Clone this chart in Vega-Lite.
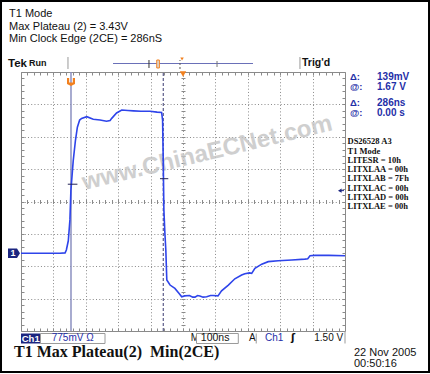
{
  "$schema": "https://vega.github.io/schema/vega-lite/v6.json",
  "width": 324,
  "height": 259,
  "autosize": {"type": "none"},
  "padding": {"left": 21, "top": 72, "right": 85, "bottom": 43},
  "background": "white",
  "config": {"view": {"stroke": "#8a8a8a", "strokeWidth": 1}},
  "datasets": {
    "wave": [
      {"t": -500, "v": 0.0}, {"t": -430, "v": 0.0}, {"t": -380, "v": 0.0}, {"t": -364, "v": 0.01},
      {"t": -360, "v": 0.08}, {"t": -354, "v": 0.3}, {"t": -349, "v": 0.8}, {"t": -346, "v": 1.5},
      {"t": -339, "v": 2.2}, {"t": -332, "v": 2.7}, {"t": -326, "v": 3.02}, {"t": -319, "v": 3.19},
      {"t": -313, "v": 3.23}, {"t": -297, "v": 3.27}, {"t": -277, "v": 3.21}, {"t": -256, "v": 3.19},
      {"t": -236, "v": 3.16}, {"t": -225, "v": 3.18}, {"t": -220, "v": 3.23}, {"t": -205, "v": 3.36},
      {"t": -189, "v": 3.43}, {"t": -170, "v": 3.42}, {"t": -153, "v": 3.41}, {"t": -130, "v": 3.4},
      {"t": -102, "v": 3.4}, {"t": -80, "v": 3.38}, {"t": -66, "v": 3.37}, {"t": -63, "v": 3.19},
      {"t": -61, "v": 2.23}, {"t": -59, "v": 1.04}, {"t": -56, "v": 0.5}, {"t": -53, "v": 0.08},
      {"t": -50, "v": -0.64}, {"t": -40, "v": -0.76}, {"t": -25, "v": -0.84}, {"t": -12, "v": -0.96},
      {"t": -4, "v": -1.04}, {"t": 5, "v": -1.02}, {"t": 20, "v": -1.01}, {"t": 30, "v": -1.05},
      {"t": 37, "v": -1.05}, {"t": 45, "v": -1.01}, {"t": 52, "v": -1.02}, {"t": 62, "v": -1.05},
      {"t": 73, "v": -1.04}, {"t": 85, "v": -1.01}, {"t": 93, "v": -1.01}, {"t": 108, "v": -1.02},
      {"t": 119, "v": -0.9}, {"t": 140, "v": -0.76}, {"t": 160, "v": -0.61}, {"t": 181, "v": -0.52},
      {"t": 191, "v": -0.49}, {"t": 205, "v": -0.47}, {"t": 212, "v": -0.48}, {"t": 222, "v": -0.36},
      {"t": 243, "v": -0.26}, {"t": 263, "v": -0.2}, {"t": 294, "v": -0.18}, {"t": 336, "v": -0.16},
      {"t": 376, "v": -0.14}, {"t": 385, "v": -0.13}, {"t": 392, "v": -0.06}, {"t": 407, "v": -0.05},
      {"t": 450, "v": -0.05}, {"t": 500, "v": -0.06}
    ]
  },
  "resolve": {"axis": {"x": "independent", "y": "independent"}},
  "layer": [
    {
      "data": {"name": "wave"},
      "mark": {"type": "point", "opacity": 0},
      "encoding": {
        "x": {"field": "t", "type": "quantitative", "scale": {"domain": [-500, 500], "nice": false, "zero": false},
          "axis": {"orient": "bottom", "values": [-500, -400, -300, -200, -100, 0, 100, 200, 300, 400, 500], "grid": true, "gridColor": "#8a8a8a", "gridDash": [1, 2.24], "gridWidth": 1, "ticks": false, "labels": false, "domain": false, "title": null}},
        "y": {"field": "v", "type": "quantitative", "scale": {"domain": [-1.86, 4.34], "nice": false, "zero": false},
          "axis": {"orient": "left", "values": [-1.86, -1.085, -0.31, 0.465, 1.24, 2.015, 2.79, 3.565, 4.34], "grid": true, "gridColor": "#8a8a8a", "gridDash": [1, 2.24], "gridWidth": 1, "ticks": false, "labels": false, "domain": false, "title": null}}
      }
    },
    {
      "data": {"name": "wave"},
      "mark": {"type": "point", "opacity": 0},
      "encoding": {
        "x": {"field": "t", "type": "quantitative", "scale": {"domain": [-500, 500], "nice": false, "zero": false},
          "axis": {"orient": "top", "offset": -3, "tickSize": 3, "tickColor": "#8a8a8a", "ticks": true, "grid": false, "labels": false, "domain": false, "title": null,
            "values": [-480, -460, -440, -420, -400, -380, -360, -340, -320, -300, -280, -260, -240, -220, -200, -180, -160, -140, -120, -100, -80, -60, -40, -20, 0, 20, 40, 60, 80, 100, 120, 140, 160, 180, 200, 220, 240, 260, 280, 300, 320, 340, 360, 380, 400, 420, 440, 460, 480]}},
        "y": {"field": "v", "type": "quantitative", "scale": {"domain": [-1.86, 4.34], "nice": false, "zero": false},
          "axis": {"orient": "left", "offset": -3, "tickSize": 3, "tickColor": "#8a8a8a", "ticks": true, "grid": false, "labels": false, "domain": false, "title": null,
            "values": [-1.705, -1.55, -1.395, -1.24, -1.085, -0.93, -0.775, -0.62, -0.465, -0.31, -0.155, 0, 0.155, 0.31, 0.465, 0.62, 0.775, 0.93, 1.085, 1.24, 1.395, 1.55, 1.705, 1.86, 2.015, 2.17, 2.325, 2.48, 2.635, 2.79, 2.945, 3.1, 3.255, 3.41, 3.565, 3.72, 3.875, 4.03, 4.185]}}
      }
    },
    {
      "data": {"name": "wave"},
      "mark": {"type": "point", "opacity": 0},
      "encoding": {
        "x": {"field": "t", "type": "quantitative", "scale": {"domain": [-500, 500], "nice": false, "zero": false},
          "axis": {"orient": "bottom", "offset": -3, "tickSize": 3, "tickColor": "#8a8a8a", "ticks": true, "grid": false, "labels": false, "domain": false, "title": null,
            "values": [-480, -460, -440, -420, -400, -380, -360, -340, -320, -300, -280, -260, -240, -220, -200, -180, -160, -140, -120, -100, -80, -60, -40, -20, 0, 20, 40, 60, 80, 100, 120, 140, 160, 180, 200, 220, 240, 260, 280, 300, 320, 340, 360, 380, 400, 420, 440, 460, 480]}},
        "y": {"field": "v", "type": "quantitative", "scale": {"domain": [-1.86, 4.34], "nice": false, "zero": false},
          "axis": {"orient": "right", "offset": -3, "tickSize": 3, "tickColor": "#8a8a8a", "ticks": true, "grid": false, "labels": false, "domain": false, "title": null,
            "values": [-1.705, -1.55, -1.395, -1.24, -1.085, -0.93, -0.775, -0.62, -0.465, -0.31, -0.155, 0, 0.155, 0.31, 0.465, 0.62, 0.775, 0.93, 1.085, 1.24, 1.395, 1.55, 1.705, 1.86, 2.015, 2.17, 2.325, 2.48, 2.635, 2.79, 2.945, 3.1, 3.255, 3.41, 3.565, 3.72, 3.875, 4.03, 4.185]}}
      }
    },
    {
      "data": {"name": "wave"},
      "mark": {"type": "point", "opacity": 0},
      "encoding": {
        "x": {"field": "t", "type": "quantitative", "scale": {"domain": [-500, 500], "nice": false, "zero": false},
          "axis": {"orient": "bottom", "offset": -131.5, "tickSize": 4, "tickColor": "#8a8a8a", "ticks": true, "grid": false, "labels": false, "domain": false, "title": null,
            "values": [-480, -460, -440, -420, -400, -380, -360, -340, -320, -300, -280, -260, -240, -220, -200, -180, -160, -140, -120, -100, -80, -60, -40, -20, 0, 20, 40, 60, 80, 100, 120, 140, 160, 180, 200, 220, 240, 260, 280, 300, 320, 340, 360, 380, 400, 420, 440, 460, 480]}},
        "y": {"field": "v", "type": "quantitative", "scale": {"domain": [-1.86, 4.34], "nice": false, "zero": false},
          "axis": {"orient": "left", "offset": -164, "tickSize": 4, "tickColor": "#8a8a8a", "ticks": true, "grid": false, "labels": false, "domain": false, "title": null,
            "values": [-1.705, -1.55, -1.395, -1.24, -1.085, -0.93, -0.775, -0.62, -0.465, -0.31, -0.155, 0, 0.155, 0.31, 0.465, 0.62, 0.775, 0.93, 1.085, 1.24, 1.395, 1.55, 1.705, 1.86, 2.015, 2.17, 2.325, 2.48, 2.635, 2.79, 2.945, 3.1, 3.255, 3.41, 3.565, 3.72, 3.875, 4.03, 4.185]}}
      }
    },
    {
      "data": {"values": [{}]},
      "mark": {"type": "text", "text": "www.ChinaECNet.com", "font": "Liberation Sans", "fontWeight": "bold", "fontSize": 24, "fill": "#c4c4c4", "opacity": 0.8, "angle": -13.5, "align": "center", "baseline": "alphabetic"},
      "encoding": {"x": {"datum": 80, "type": "quantitative", "axis": null}, "y": {"datum": 2.233, "type": "quantitative", "axis": null}}
    },
    {
      "data": {"values": [{}]},
      "mark": {"type": "rule", "stroke": "#8b90c0", "strokeWidth": 1.5},
      "encoding": {"x": {"datum": -345.7, "type": "quantitative", "axis": null}, "y": {"datum": -1.86, "type": "quantitative", "axis": null}, "y2": {"datum": 4.34}}
    },
    {
      "data": {"values": [{}]},
      "mark": {"type": "rule", "stroke": "#3a3a70", "strokeWidth": 1, "strokeDash": [3, 2]},
      "encoding": {"x": {"datum": -61, "type": "quantitative", "axis": null}, "y": {"datum": -1.86, "type": "quantitative", "axis": null}, "y2": {"datum": 4.34}}
    },
    {
      "data": {"name": "wave"},
      "mark": {"type": "line", "stroke": "#2e44ea", "strokeWidth": 1.6},
      "encoding": {
        "x": {"field": "t", "type": "quantitative", "axis": null},
        "y": {"field": "v", "type": "quantitative", "axis": null}
      }
    },
    {
      "data": {"values": [{}]},
      "mark": {"type": "rule", "stroke": "#222255", "strokeWidth": 1},
      "encoding": {"x": {"datum": -355.6, "type": "quantitative", "axis": null}, "x2": {"datum": -325.9}, "y": {"datum": 1.654, "type": "quantitative", "axis": null}}
    },
    {
      "data": {"values": [{}]},
      "mark": {"type": "rule", "stroke": "#222255", "strokeWidth": 1},
      "encoding": {"x": {"datum": -71, "type": "quantitative", "axis": null}, "x2": {"datum": -45.4}, "y": {"datum": 1.786, "type": "quantitative", "axis": null}}
    },
    {
      "data": {"values": [{}]},
      "mark": {"type": "point", "shape": "M-1,-1L-0.45,-1L-0.45,0.1L0.45,0.1L0.45,-1L1,-1L1,0.5L0,1L-1,0.5Z", "filled": true, "fill": "#f2801e", "size": 64, "opacity": 1, "strokeWidth": 0},
      "encoding": {"x": {"datum": -345.7, "type": "quantitative", "axis": null}, "y": {"datum": 4.101, "type": "quantitative", "axis": null}}
    },
    {
      "data": {"values": [{}]},
      "mark": {"type": "point", "shape": "triangle-down", "filled": true, "fill": "#f2801e", "size": 40, "opacity": 1, "strokeWidth": 0},
      "encoding": {"x": {"datum": 0, "type": "quantitative", "axis": null}, "y": {"datum": 4.29, "type": "quantitative", "axis": null}}
    },
    {
      "data": {"values": [{}]},
      "mark": {"type": "rule", "stroke": "#6a70b8", "strokeWidth": 1.2},
      "encoding": {"x": {"datum": -216, "type": "quantitative", "axis": null}, "x2": {"datum": 216}, "y": {"datum": 4.543, "type": "quantitative", "axis": null}}
    },
    {
      "data": {"values": [{}]},
      "mark": {"type": "rule", "stroke": "#333333", "strokeWidth": 1},
      "encoding": {"x": {"datum": -105, "type": "quantitative", "axis": null}, "y": {"datum": 4.436, "type": "quantitative", "axis": null}, "y2": {"datum": 4.627}}
    },
    {
      "data": {"values": [{}]},
      "mark": {"type": "rect", "fill": "#dddddd", "stroke": "#f2801e", "strokeWidth": 1},
      "encoding": {"x": {"datum": -81, "type": "quantitative", "axis": null}, "x2": {"datum": -73}, "y": {"datum": 4.436, "type": "quantitative", "axis": null}, "y2": {"datum": 4.627}}
    },
    {
      "data": {"values": [{}]},
      "mark": {"type": "rule", "stroke": "#555555", "strokeWidth": 1, "strokeDash": [2, 2]},
      "encoding": {"x": {"datum": -9.3, "type": "quantitative", "axis": null}, "y": {"datum": 4.412, "type": "quantitative", "axis": null}, "y2": {"datum": 4.627}}
    },
    {
      "data": {"values": [{}]},
      "mark": {"type": "point", "shape": "triangle-down", "filled": true, "fill": "#f2801e", "size": 12, "opacity": 1, "strokeWidth": 0},
      "encoding": {"x": {"datum": -3, "type": "quantitative", "axis": null}, "y": {"datum": 4.651, "type": "quantitative", "axis": null}}
    },
    {
      "data": {"values": [{}]},
      "mark": {"type": "rule", "stroke": "#777777", "strokeWidth": 1},
      "encoding": {"x": {"datum": 105, "type": "quantitative", "axis": null}, "y": {"datum": 4.46, "type": "quantitative", "axis": null}, "y2": {"datum": 4.603}}
    },
    {
      "data": {"values": [{}]},
      "mark": {"type": "rule", "stroke": "#999999", "strokeWidth": 1},
      "encoding": {"x": {"datum": -355, "type": "quantitative", "axis": null}, "y": {"datum": 4.412, "type": "quantitative", "axis": null}, "y2": {"datum": 4.699}}
    },
    {
      "data": {"values": [{}]},
      "mark": {"type": "rule", "stroke": "#999999", "strokeWidth": 1},
      "encoding": {"x": {"datum": 361, "type": "quantitative", "axis": null}, "y": {"datum": 4.412, "type": "quantitative", "axis": null}, "y2": {"datum": 4.699}}
    },
    {
      "data": {"values": [{}]},
      "mark": {"type": "point", "shape": "M-1,-0.8L0.5,-0.8L1,0L0.5,0.8L-1,0.8Z", "filled": true, "fill": "#1b2580", "size": 144, "opacity": 1, "strokeWidth": 0},
      "encoding": {"x": {"datum": -521.6, "type": "quantitative", "axis": null}, "y": {"datum": 0, "type": "quantitative", "axis": null}}
    },
    {
      "data": {"values": [{}]},
      "mark": {"type": "text", "text": "1", "font": "Liberation Sans", "fontWeight": "bold", "fontSize": 9, "fill": "white", "align": "center", "baseline": "middle", "dx": -1},
      "encoding": {"x": {"datum": -521.6, "type": "quantitative", "axis": null}, "y": {"datum": 0, "type": "quantitative", "axis": null}}
    },
    {
      "data": {"values": [{}]},
      "mark": {"type": "point", "shape": "triangle-left", "filled": true, "fill": "#1b2580", "size": 18, "opacity": 1, "strokeWidth": 0},
      "encoding": {"x": {"datum": 484, "type": "quantitative", "axis": null}, "y": {"datum": 1.5, "type": "quantitative", "axis": null}}
    },
    {
      "data": {"values": [{}]},
      "mark": {"type": "rule", "stroke": "#1b2580", "strokeWidth": 1},
      "encoding": {"x": {"datum": 484, "type": "quantitative", "axis": null}, "x2": {"datum": 497}, "y": {"datum": 1.5, "type": "quantitative", "axis": null}}
    },
    {
      "data": {"values": [{}]},
      "mark": {"type": "text", "text": ["T1 Mode", "Max Plateau (2) = 3.43V", "Min Clock Edge (2CE) = 286nS"], "lineHeight": 12.6, "font": "Liberation Sans", "fontSize": 11, "fill": "#111111", "align": "left", "baseline": "alphabetic"},
      "encoding": {"x": {"datum": -537, "type": "quantitative", "axis": null}, "y": {"datum": 5.657, "type": "quantitative", "axis": null}}
    },
    {
      "data": {"values": [{}]},
      "mark": {"type": "text", "text": "Tek", "font": "Liberation Sans", "fontWeight": "bold", "fontSize": 11.5, "fill": "#111111", "align": "left", "baseline": "alphabetic"},
      "encoding": {"x": {"datum": -540, "type": "quantitative", "axis": null}, "y": {"datum": 4.448, "type": "quantitative", "axis": null}}
    },
    {
      "data": {"values": [{}]},
      "mark": {"type": "text", "text": "Run", "font": "Liberation Sans", "fontWeight": "bold", "fontSize": 9, "fill": "#111111", "align": "left", "baseline": "alphabetic"},
      "encoding": {"x": {"datum": -475, "type": "quantitative", "axis": null}, "y": {"datum": 4.484, "type": "quantitative", "axis": null}}
    },
    {
      "data": {"values": [{}]},
      "mark": {"type": "text", "text": "Trig'd", "font": "Liberation Sans", "fontWeight": "bold", "fontSize": 10.5, "fill": "#111111", "align": "left", "baseline": "alphabetic"},
      "encoding": {"x": {"datum": 367.3, "type": "quantitative", "axis": null}, "y": {"datum": 4.484, "type": "quantitative", "axis": null}}
    },
    {
      "data": {"values": [{}]},
      "mark": {"type": "text", "text": "Δ:", "font": "Liberation Sans", "fontWeight": "bold", "fontSize": 9.5, "fill": "#1f2fa8", "align": "left", "baseline": "alphabetic"},
      "encoding": {"x": {"datum": 515.4, "type": "quantitative", "axis": null}, "y": {"datum": 4.16, "type": "quantitative", "axis": null}}
    },
    {
      "data": {"values": [{}]},
      "mark": {"type": "text", "text": "@:", "font": "Liberation Sans", "fontWeight": "bold", "fontSize": 9.5, "fill": "#1f2fa8", "align": "left", "baseline": "alphabetic"},
      "encoding": {"x": {"datum": 515.4, "type": "quantitative", "axis": null}, "y": {"datum": 3.921, "type": "quantitative", "axis": null}}
    },
    {
      "data": {"values": [{}]},
      "mark": {"type": "text", "text": "Δ:", "font": "Liberation Sans", "fontWeight": "bold", "fontSize": 9.5, "fill": "#1f2fa8", "align": "left", "baseline": "alphabetic"},
      "encoding": {"x": {"datum": 515.4, "type": "quantitative", "axis": null}, "y": {"datum": 3.526, "type": "quantitative", "axis": null}}
    },
    {
      "data": {"values": [{}]},
      "mark": {"type": "text", "text": "@:", "font": "Liberation Sans", "fontWeight": "bold", "fontSize": 9.5, "fill": "#1f2fa8", "align": "left", "baseline": "alphabetic"},
      "encoding": {"x": {"datum": 515.4, "type": "quantitative", "axis": null}, "y": {"datum": 3.287, "type": "quantitative", "axis": null}}
    },
    {
      "data": {"values": [{}]},
      "mark": {"type": "text", "text": "139mV", "font": "Liberation Sans", "fontWeight": "bold", "fontSize": 10, "fill": "#1f2fa8", "align": "left", "baseline": "alphabetic"},
      "encoding": {"x": {"datum": 598.8, "type": "quantitative", "axis": null}, "y": {"datum": 4.16, "type": "quantitative", "axis": null}}
    },
    {
      "data": {"values": [{}]},
      "mark": {"type": "text", "text": "1.67 V", "font": "Liberation Sans", "fontWeight": "bold", "fontSize": 10, "fill": "#1f2fa8", "align": "left", "baseline": "alphabetic"},
      "encoding": {"x": {"datum": 598.8, "type": "quantitative", "axis": null}, "y": {"datum": 3.921, "type": "quantitative", "axis": null}}
    },
    {
      "data": {"values": [{}]},
      "mark": {"type": "text", "text": "286ns", "font": "Liberation Sans", "fontWeight": "bold", "fontSize": 10, "fill": "#1f2fa8", "align": "left", "baseline": "alphabetic"},
      "encoding": {"x": {"datum": 598.8, "type": "quantitative", "axis": null}, "y": {"datum": 3.526, "type": "quantitative", "axis": null}}
    },
    {
      "data": {"values": [{}]},
      "mark": {"type": "text", "text": "0.00 s", "font": "Liberation Sans", "fontWeight": "bold", "fontSize": 10, "fill": "#1f2fa8", "align": "left", "baseline": "alphabetic"},
      "encoding": {"x": {"datum": 598.8, "type": "quantitative", "axis": null}, "y": {"datum": 3.287, "type": "quantitative", "axis": null}}
    },
    {
      "data": {"values": [{}]},
      "mark": {"type": "text", "text": ["DS26528  A3", "T1 Mode", "", "LITESR = 10h", "LITXLAA = 00h", "LITXLAB = 7Fh", "LITXLAC = 00h", "LITXLAD = 00h", "LITXLAE = 00h"], "lineHeight": 9.3, "font": "Liberation Serif", "fontWeight": "bold", "fontSize": 8.5, "fill": "#111111", "align": "left", "baseline": "alphabetic"},
      "encoding": {"x": {"datum": 507.7, "type": "quantitative", "axis": null}, "y": {"datum": 2.609, "type": "quantitative", "axis": null}}
    },
    {
      "data": {"values": [{}]},
      "mark": {"type": "rect", "fill": "#1b2580"},
      "encoding": {"x": {"datum": -500, "type": "quantitative", "axis": null}, "x2": {"datum": -439.8}, "y": {"datum": -1.92, "type": "quantitative", "axis": null}, "y2": {"datum": -2.159}}
    },
    {
      "data": {"values": [{}]},
      "mark": {"type": "text", "text": "Ch1", "font": "Liberation Sans", "fontWeight": "bold", "fontSize": 9.5, "fill": "white", "align": "center", "baseline": "alphabetic"},
      "encoding": {"x": {"datum": -470, "type": "quantitative", "axis": null}, "y": {"datum": -2.123, "type": "quantitative", "axis": null}}
    },
    {
      "data": {"values": [{}]},
      "mark": {"type": "rect", "fill": "white", "stroke": "#9a9a9a", "strokeWidth": 1},
      "encoding": {"x": {"datum": -439.8, "type": "quantitative", "axis": null}, "x2": {"datum": -240.7}, "y": {"datum": -1.92, "type": "quantitative", "axis": null}, "y2": {"datum": -2.159}}
    },
    {
      "data": {"values": [{}]},
      "mark": {"type": "text", "text": "775mV Ω", "font": "Liberation Sans", "fontSize": 10, "fill": "#1f2fa8", "align": "left", "baseline": "alphabetic"},
      "encoding": {"x": {"datum": -405.2, "type": "quantitative", "axis": null}, "y": {"datum": -2.099, "type": "quantitative", "axis": null}}
    },
    {
      "data": {"values": [{}]},
      "mark": {"type": "text", "text": "M", "font": "Liberation Sans", "fontSize": 10, "fill": "#111111", "align": "left", "baseline": "alphabetic"},
      "encoding": {"x": {"datum": 23.8, "type": "quantitative", "axis": null}, "y": {"datum": -2.099, "type": "quantitative", "axis": null}}
    },
    {
      "data": {"values": [{}]},
      "mark": {"type": "rect", "fill": "white", "stroke": "#9a9a9a", "strokeWidth": 1},
      "encoding": {"x": {"datum": 41.7, "type": "quantitative", "axis": null}, "x2": {"datum": 170.7}, "y": {"datum": -1.92, "type": "quantitative", "axis": null}, "y2": {"datum": -2.159}}
    },
    {
      "data": {"values": [{}]},
      "mark": {"type": "text", "text": "100ns", "font": "Liberation Sans", "fontSize": 10.5, "fill": "#111111", "align": "left", "baseline": "alphabetic"},
      "encoding": {"x": {"datum": 55, "type": "quantitative", "axis": null}, "y": {"datum": -2.099, "type": "quantitative", "axis": null}}
    },
    {
      "data": {"values": [{}]},
      "mark": {"type": "text", "text": "A", "font": "Liberation Sans", "fontSize": 10, "fill": "#111111", "align": "left", "baseline": "alphabetic"},
      "encoding": {"x": {"datum": 203.7, "type": "quantitative", "axis": null}, "y": {"datum": -2.099, "type": "quantitative", "axis": null}}
    },
    {
      "data": {"values": [{}]},
      "mark": {"type": "rule", "stroke": "#9a9a9a", "strokeWidth": 1},
      "encoding": {"x": {"datum": 226, "type": "quantitative", "axis": null}, "y": {"datum": -1.92, "type": "quantitative", "axis": null}, "y2": {"datum": -2.159}}
    },
    {
      "data": {"values": [{}]},
      "mark": {"type": "text", "text": "Ch1", "font": "Liberation Sans", "fontSize": 10, "fill": "#1f2fa8", "align": "left", "baseline": "alphabetic"},
      "encoding": {"x": {"datum": 253.1, "type": "quantitative", "axis": null}, "y": {"datum": -2.099, "type": "quantitative", "axis": null}}
    },
    {
      "data": {"values": [{}]},
      "mark": {"type": "text", "text": "ʃ", "font": "DejaVu Sans", "fontWeight": "bold", "fontSize": 10, "fill": "#111111", "align": "left", "baseline": "alphabetic"},
      "encoding": {"x": {"datum": 333.3, "type": "quantitative", "axis": null}, "y": {"datum": -2.099, "type": "quantitative", "axis": null}}
    },
    {
      "data": {"values": [{}]},
      "mark": {"type": "text", "text": "1.50 V", "font": "Liberation Sans", "fontSize": 10, "fill": "#111111", "align": "right", "baseline": "alphabetic"},
      "encoding": {"x": {"datum": 494.4, "type": "quantitative", "axis": null}, "y": {"datum": -2.099, "type": "quantitative", "axis": null}}
    },
    {
      "data": {"values": [{}]},
      "mark": {"type": "rule", "stroke": "#9a9a9a", "strokeWidth": 1},
      "encoding": {"x": {"datum": 500, "type": "quantitative", "axis": null}, "y": {"datum": -1.86, "type": "quantitative", "axis": null}, "y2": {"datum": -2.159}}
    },
    {
      "data": {"values": [{}]},
      "mark": {"type": "text", "text": "T1 Max Plateau(2)\u00a0 Min(2CE)", "font": "Liberation Serif", "fontWeight": "bold", "fontSize": 16, "fill": "#111111", "align": "left", "baseline": "alphabetic"},
      "encoding": {"x": {"datum": -521.6, "type": "quantitative", "axis": null}, "y": {"datum": -2.494, "type": "quantitative", "axis": null}}
    },
    {
      "data": {"values": [{}]},
      "mark": {"type": "text", "text": ["22 Nov 2005", "00:50:16"], "lineHeight": 10.5, "font": "Liberation Sans", "fontSize": 11, "fill": "#111111", "align": "left", "baseline": "alphabetic"},
      "encoding": {"x": {"datum": 527.8, "type": "quantitative", "axis": null}, "y": {"datum": -2.46, "type": "quantitative", "axis": null}}
    },
    {
      "data": {"values": [{}]},
      "mark": {"type": "rect", "fill": null, "stroke": "#000000", "strokeWidth": 2},
      "encoding": {"x": {"datum": -561.7, "type": "quantitative", "axis": null}, "x2": {"datum": 759.3}, "y": {"datum": 6.04, "type": "quantitative", "axis": null}, "y2": {"datum": -2.84}}
    }
  ]
}
